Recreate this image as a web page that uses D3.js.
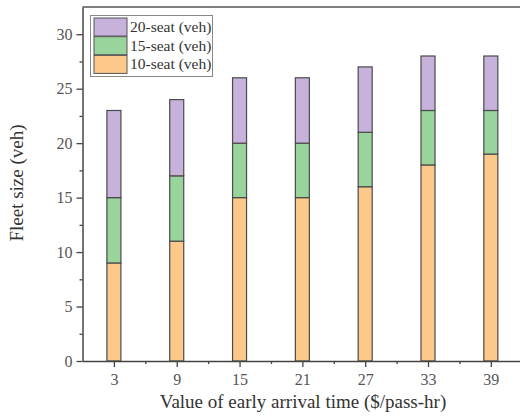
<!DOCTYPE html>
<html>
<head>
<meta charset="utf-8">
<script src="https://cdn.jsdelivr.net/npm/d3@7"></script>
<style>
  html, body { margin: 0; padding: 0; background: #fff; }
  svg { display: block; }
</style>
</head>
<body>
<svg id="chart" width="520" height="420"></svg>
<script>
// Early-arrival value (x) and fleet composition by vehicle size
const arrivalValues = [3, 9, 15, 21, 27, 33, 39];
const seat10 = [9, 11, 15, 15, 16, 18, 19];
const seat15 = [6, 6, 5, 5, 5, 5, 4];
const seat20 = [8, 7, 6, 6, 6, 5, 5];
const seriesNames = ["10-seat (veh)", "15-seat (veh)", "20-seat (veh)"];
const seriesColors = ["#fdc98b", "#98d49b", "#c7b2dc"];
const yTicks = [0, 5, 10, 15, 20, 25, 30];

const svg = d3.select("#chart");
const margin = { left: 82.5, top: 7, bottom: 361 };
const font = "'Liberation Serif', 'Times New Roman', serif";

const x = d3.scaleLinear().domain([0, 42]).range([margin.left, margin.left + 42 * 10.47]);
const y = d3.scaleLinear().domain([0, 32.5]).range([margin.bottom, margin.top]);

const rows = arrivalValues.map((v, i) => ({ v, s10: seat10[i], s15: seat15[i], s20: seat20[i] }));
const stack = d3.stack().keys(["s10", "s15", "s20"])(rows);

const barW = 14;
const g = svg.append("g");
stack.forEach((layer, li) => {
  g.selectAll(null).data(layer).enter().append("rect")
    .attr("x", d => x(d.data.v) - barW / 2)
    .attr("y", d => y(d[1]))
    .attr("width", barW)
    .attr("height", d => y(d[0]) - y(d[1]))
    .attr("fill", seriesColors[li])
    .attr("stroke", "#4a4a4a")
    .attr("stroke-width", 1.2);
});

// Top frame line
svg.append("line")
  .attr("x1", margin.left).attr("x2", 520)
  .attr("y1", margin.top).attr("y2", margin.top)
  .attr("stroke", "#555").attr("stroke-width", 1.5);

// Y axis: major and minor ticks
svg.append("g").attr("transform", `translate(${margin.left},0)`)
  .call(d3.axisLeft(y).tickValues(yTicks).tickSize(6).tickPadding(4).tickSizeOuter(0));
svg.append("g").attr("transform", `translate(${margin.left},0)`)
  .call(d3.axisLeft(y).tickValues(d3.range(2.5, 32.5, 5)).tickSize(3).tickFormat("").tickSizeOuter(0))
  .select(".domain").remove();

// X axis: major and minor ticks
svg.append("g").attr("transform", `translate(0,${margin.bottom})`)
  .call(d3.axisBottom(x).tickValues(arrivalValues).tickSize(6).tickPadding(7).tickSizeOuter(0));
svg.append("g").attr("transform", `translate(0,${margin.bottom})`)
  .call(d3.axisBottom(x).tickValues(d3.range(6, 42, 6)).tickSize(3).tickFormat("").tickSizeOuter(0))
  .select(".domain").remove();

svg.selectAll(".domain").attr("stroke", "#444").attr("stroke-width", 1.5);
svg.selectAll(".tick line").attr("stroke", "#444").attr("stroke-width", 1.3);
svg.selectAll(".tick text")
  .attr("font-family", font).attr("font-size", 16).attr("fill", "#555");

// Axis titles
svg.append("text")
  .attr("transform", `translate(23,183) rotate(-90)`)
  .attr("text-anchor", "middle")
  .attr("font-family", font).attr("font-size", 19).attr("fill", "#333")
  .text("Fleet size (veh)");
svg.append("text")
  .attr("x", 303).attr("y", 408)
  .attr("text-anchor", "middle")
  .attr("font-family", font).attr("font-size", 19).attr("fill", "#333")
  .text("Value of early arrival time ($/pass-hr)");

// Legend (top series listed first)
const legend = svg.append("g");
legend.append("rect")
  .attr("x", 90.5).attr("y", 15.5).attr("width", 122).attr("height", 61)
  .attr("fill", "#fff").attr("stroke", "#888").attr("stroke-width", 1);
[2, 1, 0].forEach((si, row) => {
  const yy = 18 + row * 18.7;
  legend.append("rect")
    .attr("x", 94).attr("y", yy).attr("width", 33).attr("height", 18)
    .attr("fill", seriesColors[si]).attr("stroke", "#555").attr("stroke-width", 1);
  legend.append("text")
    .attr("x", 130).attr("y", yy + 14)
    .attr("font-family", font).attr("font-size", 15.5).attr("fill", "#333")
    .text(seriesNames[si]);
});
</script>
</body>
</html>
